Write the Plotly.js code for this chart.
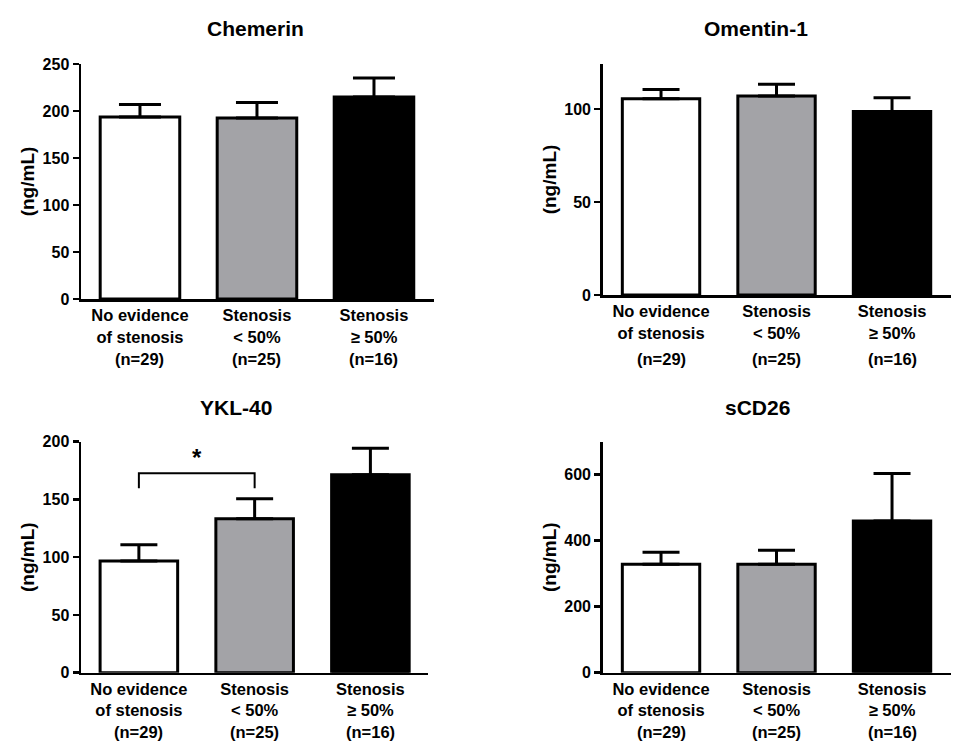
<!DOCTYPE html>
<html>
<head>
<meta charset="utf-8">
<script src="https://cdn.plot.ly/plotly-3.0.1.min.js"></script>
<style>html,body{margin:0;padding:0;background:#fff;}#chart{width:962px;height:747px;}</style>
</head>
<body>
<div id="chart"></div>
<script>
// ---- data ----
const categories = ["No evidence<br>of stenosis", "Stenosis<br>< 50%", "Stenosis<br>≥ 50%"];
const groupSizes = ["(n=29)", "(n=25)", "(n=16)"];
const barColors = ["#ffffff", "#a3a3a7", "#000000"];

const markers = ["Chemerin", "Omentin-1", "YKL-40", "sCD26"];
const chemerinMean = [193.5, 192.5, 215];
const chemerinSEM  = [13.5, 16.5, 20];
const omentinMean  = [105.5, 107, 98.6];
const omentinSEM   = [5, 6.3, 7.5];
const ykl40Mean    = [96.7, 133.3, 171.4];
const ykl40SEM     = [14, 17.3, 23];
const scd26Mean    = [329, 329, 460];
const scd26SEM     = [36, 42, 144];

const yTicks = [[0,50,100,150,200,250],[0,50,100],[0,50,100,150,200],[0,200,400,600]];
const yMax = [250, 124.2, 200, 700];

// significance bracket (YKL-40, group 0 vs group 1)
const bracketX = [0, 0, 1, 1];
const bracketY = [159.6, 172.6, 172.6, 159.6];
const starLabel = "*";
const starY = 186;

// ---- layout helpers ----
const W = 962, H = 747;
const FONT = "Liberation Sans, Arial, sans-serif";
const px = v => v / W;
const py = v => 1 - v / H;

const panels = [
  {mean: chemerinMean, sem: chemerinSEM, xd:[81,434], yd:[299,64], xr:[-0.504,2.513], bw:0.68, cap:21, title:[255,28], nY:359},
  {mean: omentinMean,  sem: omentinSEM,  xd:[602.7,950.7], yd:[295,64], xr:[-0.505,2.508], bw:0.67, cap:18.5, title:[756,28], nY:358.5},
  {mean: ykl40Mean,    sem: ykl40SEM,    xd:[81,427.7], yd:[672.7,441.7], xr:[-0.5,2.495], bw:0.67, cap:18.5, title:[236,407], nY:731.5},
  {mean: scd26Mean,    sem: scd26SEM,    xd:[602.7,950.7], yd:[672.7,441.7], xr:[-0.505,2.508], bw:0.67, cap:18.5, title:[757,407], nY:731.5}
];

const traces = [];
const layout = {
  width: W, height: H,
  margin: {l:0, r:0, t:0, b:0},
  paper_bgcolor: "#fff", plot_bgcolor: "rgba(0,0,0,0)",
  showlegend: false,
  font: {family: FONT, color: "#000", weight: 700},
  annotations: [],
  bargap: 0
};

panels.forEach((p, i) => {
  const k = i === 0 ? "" : String(i + 1);
  const xa = "x" + k, ya = "y" + k;
  traces.push({
    type: "bar",
    x: [0, 1, 2],
    y: p.mean,
    width: [p.bw, p.bw, p.bw],
    xaxis: xa, yaxis: ya,
    marker: {color: barColors, line: {color: "#000", width: 3}},
    error_y: {type: "data", symmetric: false, array: p.sem, arrayminus: [0,0,0],
              color: "#000", thickness: 3, width: p.cap},
    hoverinfo: "none"
  });
  layout["xaxis" + k] = {
    domain: [px(p.xd[0]), px(p.xd[1])],
    range: p.xr, anchor: ya,
    tickmode: "array", tickvals: [0,1,2], ticktext: categories,
    ticks: "", showgrid: false, zeroline: false,
    showline: true, linecolor: "#000", linewidth: 2.5,
    tickfont: {family: FONT, size: 16.5, color: "#000", weight: 700},
    fixedrange: true
  };
  layout["yaxis" + k] = {
    domain: [py(p.yd[0]), py(p.yd[1])],
    range: [0, yMax[i]], anchor: xa,
    tickmode: "array", tickvals: yTicks[i],
    ticks: "outside", ticklen: 6, tickwidth: 2.5, tickcolor: "#000",
    showgrid: false, zeroline: false,
    showline: true, linecolor: "#000", linewidth: 2.5,
    tickfont: {family: FONT, size: 16, color: "#000", weight: 700},
    title: {text: "(ng/mL)", font: {family: FONT, size: 19, color: "#000", weight: 700}, standoff: 3},
    fixedrange: true
  };
  layout.annotations.push({
    text: markers[i], xref: "paper", yref: "paper",
    x: px(p.title[0]), y: py(p.title[1]), xanchor: "center", yanchor: "middle",
    showarrow: false, font: {family: FONT, size: 21, color: "#000", weight: 700}
  });
  groupSizes.forEach((g, j) => {
    layout.annotations.push({
      text: g, xref: xa, yref: "paper", x: j, y: py(p.nY),
      xanchor: "center", yanchor: "middle", showarrow: false,
      font: {family: FONT, size: 16.5, color: "#000", weight: 700}
    });
  });
});

// bracket + star on YKL-40 panel
traces.push({
  type: "scatter", mode: "lines", x: bracketX, y: bracketY,
  xaxis: "x3", yaxis: "y3", line: {color: "#000", width: 2}, hoverinfo: "none"
});
layout.annotations.push({
  text: starLabel, xref: "x3", yref: "y3", x: 0.5, y: starY,
  xanchor: "center", yanchor: "middle", showarrow: false,
  font: {family: FONT, size: 24, color: "#000", weight: 700}
});

Plotly.newPlot("chart", traces, layout, {staticPlot: true, displayModeBar: false});
</script>
</body>
</html>
